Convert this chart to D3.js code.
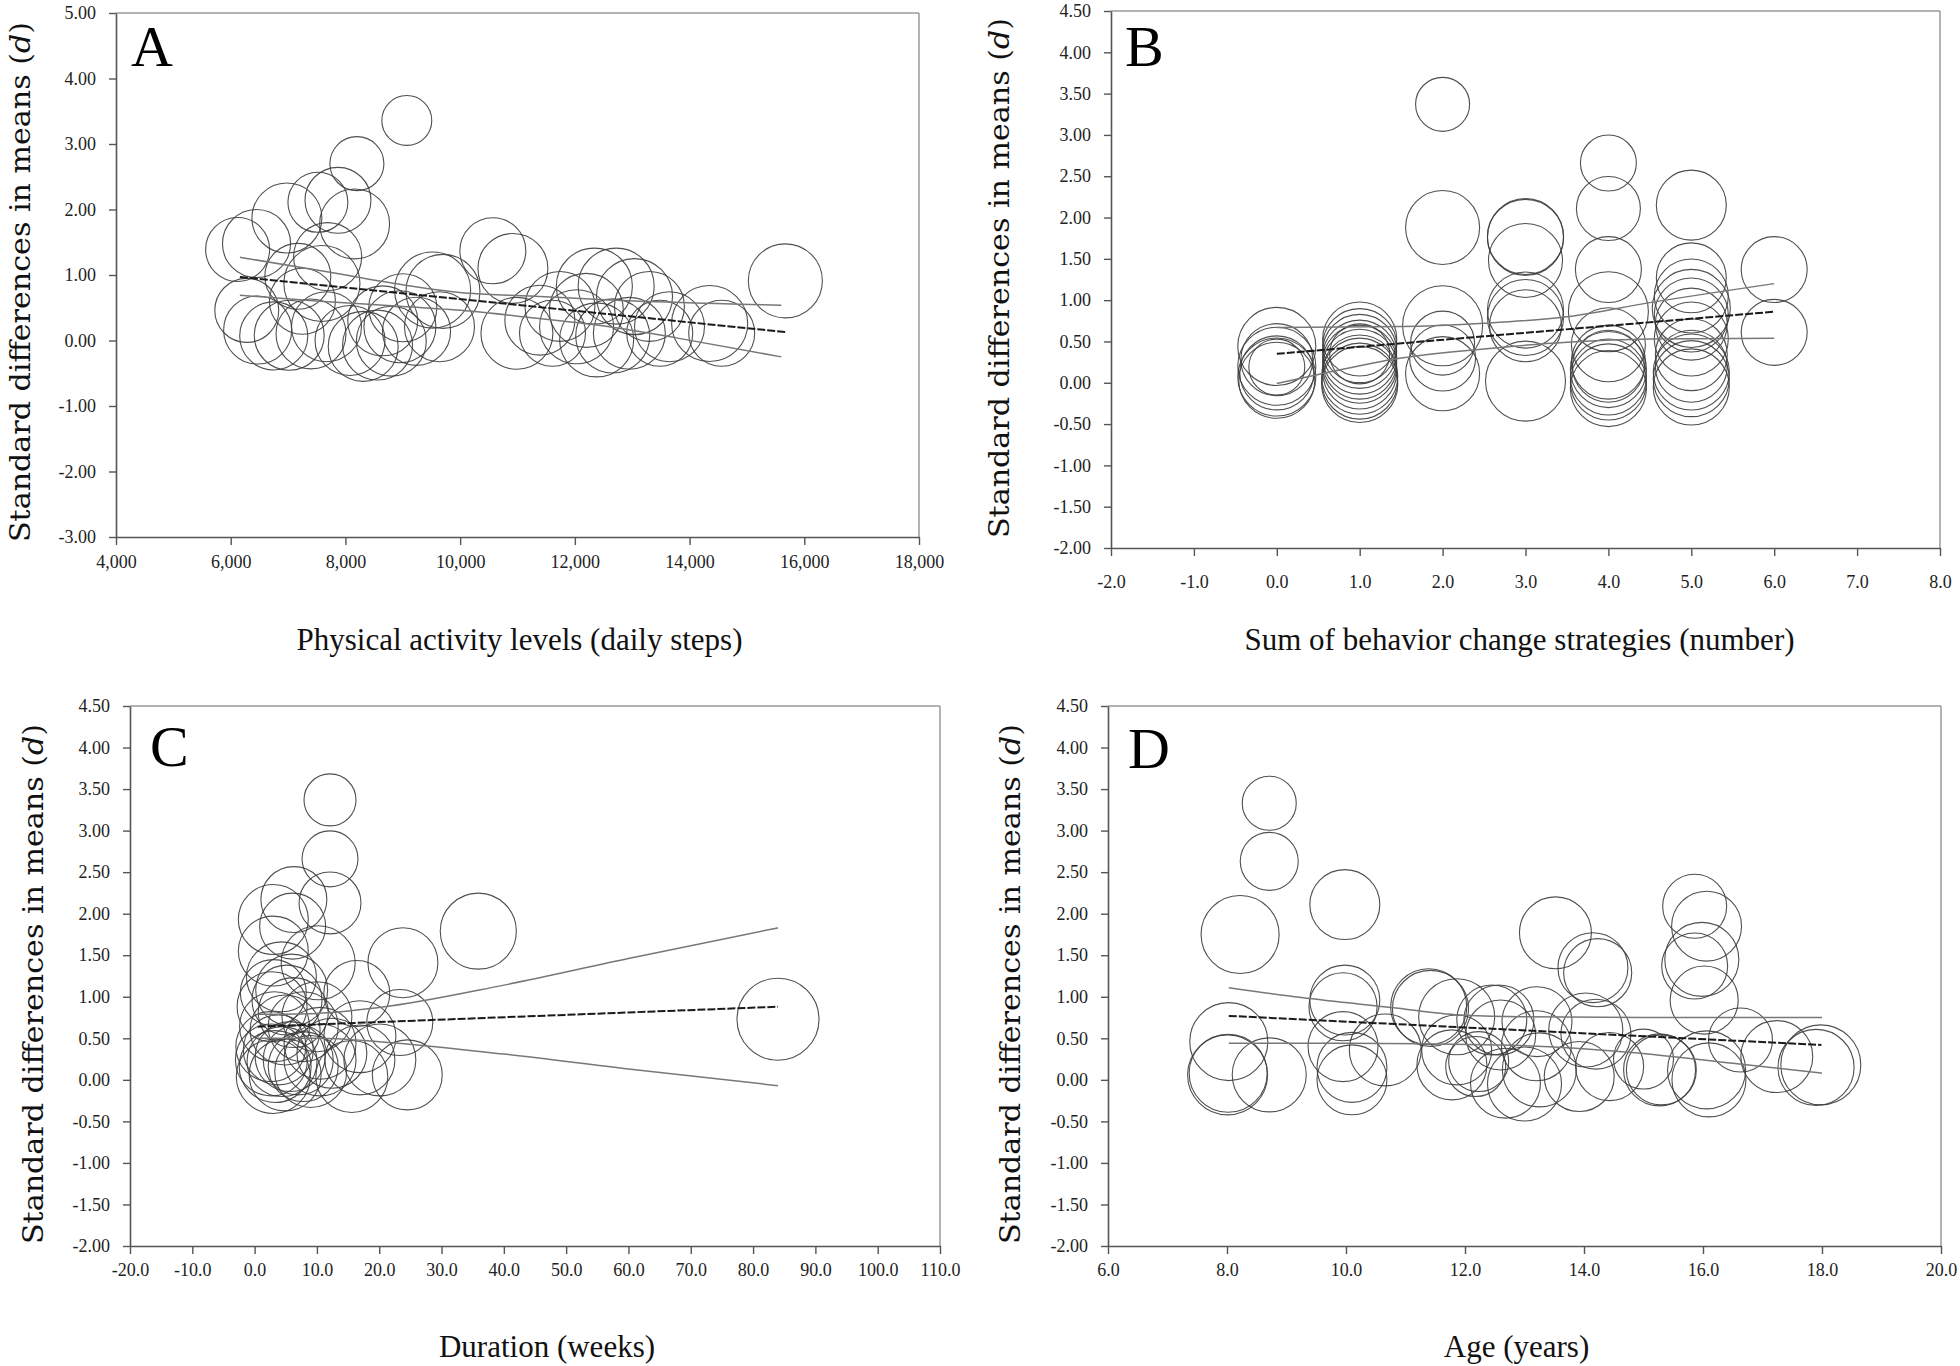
<!DOCTYPE html>
<html>
<head>
<meta charset="utf-8">
<script src="https://cdn.jsdelivr.net/npm/d3@7"></script>
<style>
  html, body { margin: 0; padding: 0; background: #fff; }
  svg { display: block; }
</style>
</head>
<body>
<script>
// ---------------- DATA ----------------
// Panel A: physical activity levels (daily steps)
const stepsX = [9070,8200,7520,7870,8160,6980,6450,6120,7690,7170,7590,6280,6470,6750,7020,8080,8310,8560,8800,8950,9240,9640,9520,9700,10570,10920,10990,7670,7400,7250,8650,9000,11610,11390,11740,12030,12200,12340,12380,12660,12720,12950,13040,13300,13480,13650,14350,14560,15670];
const stepsD = [3.36,2.70,2.11,2.14,1.78,1.87,1.48,1.39,1.28,0.98,0.87,0.46,0.16,0.07,0.08,0.00,-0.09,-0.07,-0.01,0.21,0.14,0.21,0.77,0.75,1.37,1.10,0.11,0.21,0.10,0.60,0.30,0.50,0.11,0.31,0.52,0.21,0.46,0.83,0.01,0.07,0.83,0.11,0.67,0.52,0.11,0.21,0.26,0.11,0.91];
const stepsW = [1.06,1.24,1.53,1.85,2.08,2.08,1.97,1.74,1.97,1.85,2.46,1.74,1.97,1.97,2.08,2.08,2.08,2.08,2.08,2.20,1.97,2.08,2.46,2.33,1.85,2.08,2.20,2.08,2.08,1.85,2.08,1.97,1.85,2.08,2.08,2.33,2.33,2.46,2.33,2.33,2.46,2.20,2.46,2.08,1.85,2.08,2.46,1.85,2.33];
const stepsFit   = [[6160,0.97],[15670,0.13]];
const stepsUpper = [[6160,1.27],[7550,1.07],[9000,0.85],[10170,0.72],[11210,0.68],[12600,0.62],[15600,0.54]];
const stepsLower = [[6160,0.69],[7550,0.60],[9000,0.52],[10170,0.45],[11210,0.35],[12600,0.21],[13770,0.04],[15600,-0.25]];

// Panel B: sum of behavior change strategies
const bcsX = [0,0,0,0,0,0,0, 1,1,1,1,1,1,1,1,1,1,1, 2,2,2,2,2,2, 3,3,3,3,3,3,3, 4,4,4,4,4,4,4,4,4,4,4, 5,5,5,5,5,5,5,5,5,5,5,5, 6,6];
const bcsD = [0.44,0.20,0.07,0.19,0.03,0.12,0.28, 0.53,0.45,0.38,0.31,0.25,0.20,0.13,0.08,0.02,-0.02,0.35, 3.37,1.88,0.69,0.48,0.30,0.11, 1.77,1.76,1.48,0.88,0.79,0.69,0.02, 2.66,2.11,1.37,0.86,0.46,0.25,0.20,0.16,0.07,0.01,-0.07, 2.15,1.27,1.05,0.90,0.82,0.71,0.53,0.34,0.20,0.13,0.05,-0.05, 1.37,0.61];
const bcsW = [2.59,2.59,2.59,1.33,2.46,2.33,2.20, 2.33,2.33,2.33,2.33,2.33,2.33,2.33,2.46,2.46,2.46,1.53, 1.24,2.33,2.72,1.74,1.85,2.33, 2.46,2.46,2.33,2.46,2.46,2.20,2.72, 1.33,1.74,1.85,2.72,2.33,2.33,2.20,2.46,2.46,2.46,2.46, 2.08,2.08,2.33,2.59,2.33,2.20,2.33,2.20,2.20,2.46,2.46,2.46, 1.85,1.85];
const bcsFit   = [[0,0.35],[6,0.86]];
const bcsUpper = [[0,0.67],[1.5,0.68],[2.5,0.72],[3.5,0.80],[4.5,0.97],[6,1.20]];
const bcsLower = [[0,-0.01],[0.5,0.10],[1.5,0.30],[2.5,0.41],[3.5,0.49],[4.5,0.53],[6,0.54]];

// Panel C: duration (weeks)
const durX = [12.1,12.1,12.1,6.3,3.0,6.1,3.0,10.2,23.8,35.9,16.4,23.3,24.5,84.0,3.0,5.95,5.2,6.2,3.2,4.9,7.8,2.7,3.3,4.4,5.7,7.0,3.0,4.9,7.8,10.5,12.4,16.9,15.6,20.1,16.9,10.0,10.5,2.6,2.8,4.3,3.8,9.0];
const durD = [3.37,2.66,2.13,2.17,1.93,1.85,1.55,1.41,1.41,1.79,1.04,0.69,0.06,0.73,1.05,1.08,0.96,0.81,0.64,0.60,0.64,0.24,0.16,0.22,0.28,0.24,0.04,0.06,0.16,0.24,0.32,0.52,0.04,0.24,0.24,0.76,0.44,0.40,0.88,1.24,0.36,0.10];
const durW = [1.15,1.33,1.63,1.85,2.08,1.85,2.08,2.33,2.08,2.46,1.85,1.85,2.08,2.86,1.85,2.20,2.08,2.08,2.08,2.08,2.08,2.20,2.20,2.08,2.08,2.08,2.33,2.20,2.08,2.20,2.08,2.20,2.20,2.20,2.08,2.08,2.20,2.08,2.08,2.08,2.08,2.20];
const durFit   = [[0.5,0.64],[84,0.88]];
const durUpper = [[0.5,0.79],[10,0.80],[20,0.87],[40,1.14],[60,1.46],[84,1.83]];
const durLower = [[0.5,0.50],[10,0.50],[20,0.46],[40,0.31],[60,0.13],[84,-0.07]];

// Panel D: age (years)
const ageX = [8.71,8.71,8.22,9.98,8.03,8.01,8.02,8.71,9.98,9.95,9.95,10.1,10.1,10.66,11.39,11.42,11.86,11.78,12.18,12.45,12.23,12.68,11.86,13.52,14.15,14.23,15.86,16.06,15.98,15.86,16.02,16.63,17.24,17.98,17.9,15.27,15.30,16.06,16.1,13.21,14.03,14.2,13.25,14.43,13.92,12.57,13.0,15.0,12.6,13.2];
const ageD = [3.33,2.63,1.75,2.11,0.46,0.06,0.08,0.06,0.96,0.88,0.40,0.15,0.00,0.36,0.88,0.86,0.76,0.18,0.16,0.72,0.22,-0.04,0.36,1.77,1.35,1.29,2.09,1.85,1.45,1.37,0.96,0.48,0.28,0.18,0.15,0.12,0.12,0.12,0.00,0.70,0.60,0.55,0.12,0.16,0.04,0.72,-0.05,0.25,0.54,0.41];
const ageW = [1.24,1.43,2.59,2.08,2.59,2.72,2.59,2.33,2.08,1.97,2.08,2.08,2.08,2.20,2.46,2.46,2.46,2.08,1.53,2.08,1.53,2.08,2.08,2.20,2.08,1.97,1.74,2.08,2.33,1.85,1.97,1.74,2.20,2.72,2.46,2.20,2.08,2.59,2.33,2.08,2.33,2.08,2.33,1.97,2.08,2.08,2.33,1.53,2.08,2.08];
const ageFit   = [[8.03,0.77],[17.99,0.42]];
const ageUpper = [[8.03,1.11],[9.25,0.99],[10.77,0.87],[11.9,0.78],[12.9,0.76],[15,0.75],[18,0.75]];
const ageLower = [[8.03,0.44],[10,0.44],[12.57,0.42],[14.8,0.33],[16.5,0.20],[18,0.08]];

// Axis ticks / labels
const yLabel = "Standard differences in means (";
const panels = [
  { letter: "A", xTitle: "Physical activity levels (daily steps)",
    xDomain: [4000, 18000], xTicks: [4000,6000,8000,10000,12000,14000,16000,18000], xFmt: d3.format(","),
    yDomain: [-3, 5], yTicks: [-3,-2,-1,0,1,2,3,4,5],
    x: stepsX, d: stepsD, w: stepsW, fit: stepsFit, up: stepsUpper, lo: stepsLower },
  { letter: "B", xTitle: "Sum of behavior change strategies (number)",
    xDomain: [-2, 8], xTicks: [-2,-1,0,1,2,3,4,5,6,7,8], xFmt: v => v.toFixed(1),
    yDomain: [-2, 4.5], yTicks: [-2,-1.5,-1,-0.5,0,0.5,1,1.5,2,2.5,3,3.5,4,4.5],
    x: bcsX, d: bcsD, w: bcsW, fit: bcsFit, up: bcsUpper, lo: bcsLower },
  { letter: "C", xTitle: "Duration (weeks)",
    xDomain: [-20, 110], xTicks: [-20,-10,0,10,20,30,40,50,60,70,80,90,100,110], xFmt: v => v.toFixed(1),
    yDomain: [-2, 4.5], yTicks: [-2,-1.5,-1,-0.5,0,0.5,1,1.5,2,2.5,3,3.5,4,4.5],
    x: durX, d: durD, w: durW, fit: durFit, up: durUpper, lo: durLower },
  { letter: "D", xTitle: "Age (years)",
    xDomain: [6, 20], xTicks: [6,8,10,12,14,16,18,20], xFmt: v => v.toFixed(1),
    yDomain: [-2, 4.5], yTicks: [-2,-1.5,-1,-0.5,0,0.5,1,1.5,2,2.5,3,3.5,4,4.5],
    x: ageX, d: ageD, w: ageW, fit: ageFit, up: ageUpper, lo: ageLower }
];

// ---------------- LAYOUT ----------------
const layout = [
  { left: 116, right: 919, top: 13,  bottom: 537,  xPad: 10, yTitleX: 22,   yTitleY: 282, xTitleY: 650, xTitleDx: 2,  letterX: 131,  letterY: 66 },
  { left: 1111, right: 1940, top: 11, bottom: 548, xPad: 19, yTitleX: 1001, yTitleY: 278, xTitleY: 650, xTitleDx: -6, letterX: 1125, letterY: 66 },
  { left: 130, right: 940, top: 706, bottom: 1246, xPad: 9,  yTitleX: 35,   yTitleY: 984, xTitleY: 1357, xTitleDx: 12, letterX: 150, letterY: 766 },
  { left: 1108, right: 1941, top: 706, bottom: 1246, xPad: 9, yTitleX: 1012, yTitleY: 984, xTitleY: 1357, xTitleDx: -8, letterX: 1128, letterY: 768 }
];

const W = 1960, H = 1366;
const svg = d3.select("body").append("svg").attr("width", W).attr("height", H);
const rScale = d3.scaleSqrt().domain([0, 3]).range([0, 42]);
const yFmt = v => v.toFixed(2);
const tickFont = "'Liberation Serif', 'Times New Roman', serif";

panels.forEach((p, i) => {
  const L = layout[i];
  const x = d3.scaleLinear().domain(p.xDomain).range([L.left, L.right]);
  const y = d3.scaleLinear().domain(p.yDomain).range([L.bottom, L.top]);
  const g = svg.append("g");

  // circles
  const pts = p.x.map((v, k) => ({ x: v, d: p.d[k], w: p.w[k] }));
  g.append("g").selectAll("circle").data(pts).join("circle")
    .attr("cx", q => x(q.x)).attr("cy", q => y(q.d)).attr("r", q => rScale(q.w))
    .attr("fill", "none").attr("stroke", "#3c3c3c").attr("stroke-width", 1.1).attr("stroke-opacity", 0.9);

  // regression lines
  const line = d3.line().x(q => x(q[0])).y(q => y(q[1])).curve(d3.curveMonotoneX);
  g.append("path").attr("d", line(p.up)).attr("fill", "none").attr("stroke", "#777").attr("stroke-width", 1.5);
  g.append("path").attr("d", line(p.lo)).attr("fill", "none").attr("stroke", "#777").attr("stroke-width", 1.5);
  g.append("path").attr("d", d3.line().x(q => x(q[0])).y(q => y(q[1]))(p.fit))
    .attr("fill", "none").attr("stroke", "#1a1a1a").attr("stroke-width", 2).attr("stroke-dasharray", "8,2");

  // frame top & right
  g.append("line").attr("x1", L.left).attr("x2", L.right).attr("y1", L.top).attr("y2", L.top)
    .attr("stroke", "#9a9a9a").attr("stroke-width", 1.5);
  g.append("line").attr("x1", L.right).attr("x2", L.right).attr("y1", L.top).attr("y2", L.bottom)
    .attr("stroke", "#9a9a9a").attr("stroke-width", 1.5);

  // axes
  const ax = g.append("g").attr("transform", `translate(0,${L.bottom})`)
    .call(d3.axisBottom(x).tickValues(p.xTicks).tickFormat(p.xFmt).tickSize(8).tickSizeOuter(0).tickPadding(L.xPad));
  const ay = g.append("g").attr("transform", `translate(${L.left},0)`)
    .call(d3.axisLeft(y).tickValues(p.yTicks).tickFormat(yFmt).tickSize(7).tickSizeOuter(0).tickPadding(13));
  [ax, ay].forEach(a => {
    a.select(".domain").attr("stroke", "#555").attr("stroke-width", 1.6);
    a.selectAll(".tick line").attr("stroke", "#555").attr("stroke-width", 1.4);
    a.selectAll(".tick text").attr("font-family", tickFont).attr("font-size", 18).attr("fill", "#222");
  });

  // panel letter
  g.append("text").attr("x", L.letterX).attr("y", L.letterY).text(p.letter)
    .attr("font-family", tickFont).attr("font-size", 58).attr("fill", "#000");

  // x title
  g.append("text").attr("x", (L.left + L.right) / 2 + L.xTitleDx).attr("y", L.xTitleY)
    .attr("text-anchor", "middle").attr("font-family", tickFont).attr("font-size", 31).attr("fill", "#111")
    .text(p.xTitle);

  // y title
  const yt = g.append("text").attr("transform", `translate(${L.yTitleX},${L.yTitleY}) rotate(-90)`)
    .attr("text-anchor", "middle").attr("dominant-baseline", "middle")
    .attr("font-family", "'DejaVu Serif', serif").attr("font-size", 27).attr("fill", "#111")
    .attr("textLength", 520).attr("lengthAdjust", "spacingAndGlyphs");
  yt.append("tspan").text(yLabel);
  yt.append("tspan").attr("font-style", "italic").text("d");
  yt.append("tspan").text(")");
});
</script>
</body>
</html>
